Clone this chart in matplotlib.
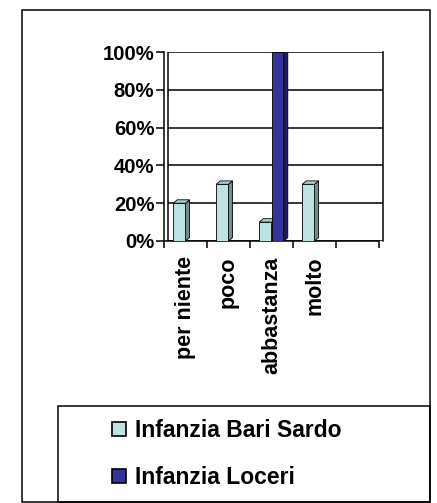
import matplotlib
matplotlib.use('Agg')
import matplotlib.pyplot as plt
from matplotlib.patches import Patch, Polygon, Rectangle
import numpy as np

# Data
categories = ['per niente', 'poco', 'abbastanza', 'molto', '']
bari_sardo = [0.20, 0.30, 0.10, 0.30, 0.0]
loceri = [0.0, 0.0, 1.00, 0.0, 0.0]
series_names = ['Infanzia Bari Sardo', 'Infanzia Loceri']
y_ticks = [0.0, 0.2, 0.4, 0.6, 0.8, 1.0]
y_tick_labels = ['0%', '20%', '40%', '60%', '80%', '100%']

# Excel-ish look
plt.rcParams['font.family'] = ['Liberation Sans', 'DejaVu Sans']
plt.rcParams['font.weight'] = 'bold'
face_colors = ['#bde2e2', '#333399']
side_colors = ['#6f8e8e', '#1c1c5e']
top_colors = ['#a9cfcf', '#2a2a80']

W, H = 437, 503
fig = plt.figure(figsize=(W / 100, H / 100), dpi=100)

# outer chart frame + legend box (pixel positions)
fig.patches.append(Rectangle((22 / W, 1 - 502 / H), (430 - 22) / W, (502 - 10) / H,
                             transform=fig.transFigure, fill=False, ec='black', lw=1.1))
fig.patches.append(Rectangle((58 / W, 1 - 502 / H), (430 - 58) / W, (502 - 406) / H,
                             transform=fig.transFigure, fill=False, ec='black', lw=1.1))

ax = fig.add_axes([164 / W, 1 - 241 / H, (383 - 164) / W, (241 - 52) / H])

# fake 3D depth, in data units
dx = 0.093
dy = 0.018
x = np.arange(len(categories))
bw = 1 / 3.5  # clustered bars, gap width 150%


def bar3d(xs, vals, i, z):
    bars = ax.bar(xs, vals, width=bw, color=face_colors[i], edgecolor='black',
                  linewidth=0.6, zorder=z)
    for b in bars:
        h = b.get_height()
        if h <= 0:
            continue
        x0 = b.get_x()
        x1 = x0 + b.get_width()
        ax.add_patch(Polygon([(x1, 0), (x1, h), (x1 + dx, h + dy), (x1 + dx, dy)],
                             closed=True, fc=side_colors[i], ec='black', lw=0.6, zorder=z))
        ax.add_patch(Polygon([(x0, h), (x1, h), (x1 + dx, h + dy), (x0 + dx, h + dy)],
                             closed=True, fc=top_colors[i], ec='black', lw=0.6, zorder=z))


bar3d(x - bw / 2, bari_sardo, 0, 3)
bar3d(x + bw / 2, loceri, 1, 4)

# back wall: gridlines and double left edge
ax.hlines(y_ticks, -0.5 + dx, len(categories) - 0.5 + dx, colors='black', lw=1.1, zorder=1)
ax.vlines(-0.5 + dx, 0, 1, colors='black', lw=1.1, zorder=1)

ax.set_xlim(-0.5, len(categories) - 0.5 + dx)
ax.set_ylim(0, 1)
for s in ['left', 'bottom', 'right']:
    ax.spines[s].set_linewidth(1.1)
ax.spines['top'].set_visible(False)
ax.spines['bottom'].set_bounds(-0.5, len(categories) - 0.5)

ax.set_yticks(y_ticks)
ax.set_yticklabels(y_tick_labels, fontsize=14.6, fontweight='bold')
ax.tick_params(axis='y', length=6, width=1.1, pad=1)

ax.set_xticks(x)
ax.set_xticklabels(categories, rotation=90, fontsize=15.5, fontweight='bold')
ax.set_xticks(np.arange(len(categories) + 1) - 0.5, minor=True)
ax.tick_params(axis='x', which='major', length=0, pad=11)
ax.tick_params(axis='x', which='minor', length=5, width=1.1)

handles = [Patch(facecolor=c, edgecolor='black', linewidth=1.2) for c in face_colors]
fig.legend(handles, series_names, loc='center left',
           bbox_to_anchor=(112 / W, 1 - 454 / H),
           frameon=False, prop={'size': 16.5, 'weight': 'bold'},
           handlelength=0.6, handleheight=0.6, handletextpad=0.4,
           labelspacing=1.05, borderpad=0, borderaxespad=0)

fig.savefig('out.png', dpi=100)
